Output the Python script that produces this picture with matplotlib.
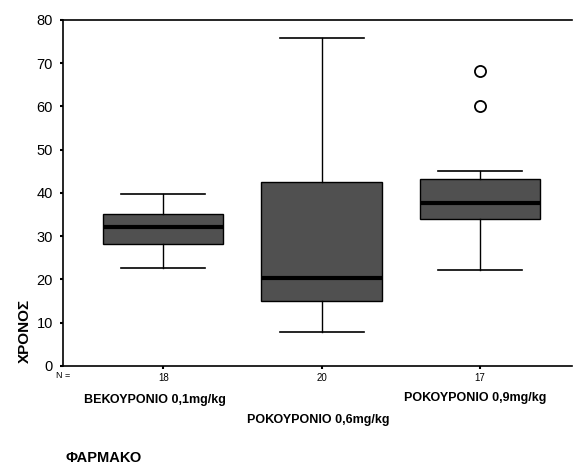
import matplotlib
matplotlib.use("Agg")
import matplotlib.pyplot as plt
import matplotlib.transforms as mtransforms

plt.rcParams['font.family'] = ['Liberation Sans', 'DejaVu Sans']

# Data
categories = ['ΒΕΚΟΥΡΟΝΙΟ 0,1mg/kg', 'ΡΟΚΟΥΡΟΝΙΟ 0,6mg/kg', 'ΡΟΚΟΥΡΟΝΙΟ 0,9mg/kg']
n_counts = [18, 20, 17]
whisker_low = [22.6, 7.9, 22.2]
q1 = [28.1, 15.0, 34.0]
medians = [32.2, 20.2, 37.6]
q3 = [35.1, 42.6, 43.1]
whisker_high = [39.8, 75.7, 45.1]
outliers = [[], [], [60.1, 68.1]]
y_ticks = [0, 10, 20, 30, 40, 50, 60, 70, 80]

stats = []
for i in range(len(categories)):
    stats.append(dict(whislo=whisker_low[i], q1=q1[i], med=medians[i],
                      q3=q3[i], whishi=whisker_high[i], fliers=outliers[i]))

fig = plt.figure(figsize=(5.73, 4.66), dpi=100)
ax = fig.add_axes([0.1105, 0.215, 0.8875, 0.7425])

positions = list(range(1, len(categories) + 1))
ax.bxp(stats, positions=positions, widths=0.76, capwidths=0.53,
       patch_artist=True, showfliers=True,
       boxprops=dict(facecolor='#505050', edgecolor='black', linewidth=1.0),
       medianprops=dict(color='black', linewidth=3.0),
       whiskerprops=dict(color='black', linewidth=1.0),
       capprops=dict(color='black', linewidth=1.2),
       flierprops=dict(marker='o', markerfacecolor='white', markeredgecolor='black',
                       markersize=8, markeredgewidth=1.3))

ax.set_xlim(0.369, 3.58)
ax.set_ylim(0, 80)
ax.set_yticks(y_ticks)
ax.set_yticklabels([str(t) for t in y_ticks], fontsize=10.5)
ax.tick_params(axis='y', length=2.5, width=1.5, pad=5, direction='out')
ax.set_xticks(positions)
ax.set_xticklabels([str(n) for n in n_counts], fontsize=7)
ax.tick_params(axis='x', length=2, width=1.5, pad=3, direction='out')

for s in ['left', 'bottom', 'top']:
    ax.spines[s].set_linewidth(1.2)
ax.spines['right'].set_visible(False)

trans = mtransforms.blended_transform_factory(ax.transData, fig.transFigure)
label_y = [1 - 400 / 466, 1 - 420 / 466, 1 - 398 / 466]
label_dx = [-0.05, -0.02, -0.03]
for i, cat in enumerate(categories):
    ax.text(positions[i] + label_dx[i], label_y[i], cat, transform=trans,
            ha='center', va='center', fontsize=9, fontweight='bold')

fig.text(63 / 573, 1 - 375 / 466, 'N =', ha='center', va='center', fontsize=6.5)
fig.text(25 / 573, 1 - 331 / 466, 'ΧΡΟΝΟΣ', rotation=90, ha='center', va='center',
         fontsize=11, fontweight='bold')
fig.text(65 / 573, 1 - 458 / 466, 'ΦΑΡΜΑΚΟ', ha='left', va='center',
         fontsize=10.5, fontweight='bold')

fig.savefig('out.png', dpi=100)
